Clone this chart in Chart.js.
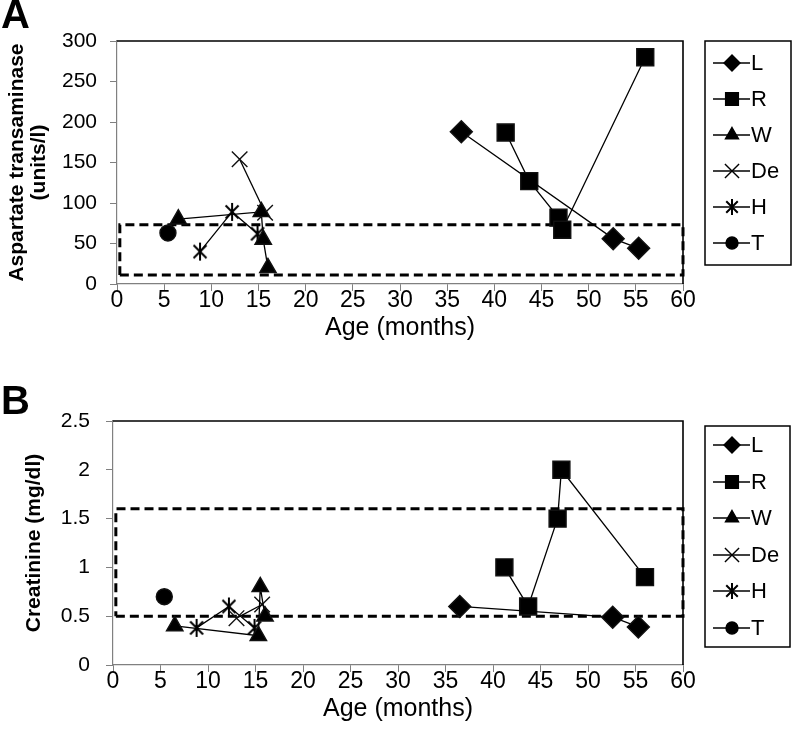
<!DOCTYPE html>
<html>
<head>
<meta charset="utf-8">
<script src="https://cdn.jsdelivr.net/npm/chart.js@4.4.0/dist/chart.umd.min.js"></script>
<style>
body { margin: 0; background: #fff; width: 793px; height: 747px; position: relative; overflow: hidden; font-family: "Liberation Sans", Arial, sans-serif; }
.wrap { position: absolute; left: 0; width: 793px; }
.panel { position: absolute; left: 1px; font-weight: bold; font-size: 40px; line-height: 1; }
</style>
</head>
<body>
<div class="wrap" style="top:0;height:370px"><canvas id="chartA"></canvas></div>
<div class="wrap" style="top:370px;height:377px"><canvas id="chartB"></canvas></div>
<div class="panel" style="top:-6px">A</div>
<div class="panel" style="top:380px">B</div>
<script>
/*
* Данные
*/
var seriesNames = ['L', 'R', 'W', 'De', 'H', 'T'];

// возраст (месяцы) для каждого животного
var ageL = [36.5, 52.6, 55.3];
var ageR = [41.2, 43.7, 46.8, 47.2, 56.0];
var ageW = [6.5, 15.3, 15.5, 16.0];
var ageDe = [13.0, 15.7];
var ageH = [8.8, 12.2, 14.9];
var ageT = [5.4];

// A: аспартатаминотрансфераза (units/l)
var astL = [188, 56, 44];
var astR = [187, 127, 82, 67, 280];
var astW = [80, 89, 55, 20];
var astDe = [154, 88];
var astH = [40, 89, 62];
var astT = [63];
var astRange = [11, 73];

// B: креатинин (mg/dl)
var creL = [0.6, 0.49, 0.39];
var creR = [1.0, 0.6, 1.5, 2.0, 0.9];
var creW = [0.4, 0.3, 0.8, 0.5];
var creDe = [0.48, 0.62];
var creH = [0.38, 0.6, 0.38];
var creT = [0.7];
var creRange = [0.5, 1.6];

// границы нормы по оси X
var rangeAge = [0.3, 60];

var xTicks = { min: 0, max: 60, step: 5 };
var astTicks = { min: 0, max: 300, step: 50 };
var creTicks = { min: 0, max: 2.5, step: 0.5 };

Chart.defaults.font.family = '"Liberation Sans", Arial, sans-serif';
Chart.defaults.color = '#000';

// звездочка (X + вертикальная линия)
function makeAsterisk(r, w) {
    var c = document.createElement('canvas');
    c.width = c.height = Math.ceil(r * 2 + 4);
    var g = c.getContext('2d');
    var m = c.width / 2, d = r * 0.72;
    g.strokeStyle = '#000';
    g.lineWidth = w;
    g.beginPath();
    g.moveTo(m - d, m - d); g.lineTo(m + d, m + d);
    g.moveTo(m + d, m - d); g.lineTo(m - d, m + d);
    g.moveTo(m, m - r); g.lineTo(m, m + r);
    g.stroke();
    return c;
}
var asteriskBig = makeAsterisk(9, 2);
var asteriskSmall = makeAsterisk(8, 2);

function pts(xs, ys) {
    var arr = [];
    for (var i = 0; i < xs.length; i++) {
        arr.push({ x: xs[i], y: ys[i] });
    }
    return arr;
}

function makeDatasets(vals, range) {
    var ages = [ageL, ageR, ageW, ageDe, ageH, ageT];
    var styles = [
        { pointStyle: 'rectRot', pointRadius: 11, legendRadius: 8 },
        { pointStyle: 'rect', pointRadius: 12, legendRadius: 9 },
        { pointStyle: 'triangle', pointRadius: 9.5, legendRadius: 7.5 },
        { pointStyle: 'crossRot', pointRadius: 11, legendRadius: 10 },
        { pointStyle: asteriskBig, pointRadius: 9, legendStyle: asteriskSmall },
        { pointStyle: 'circle', pointRadius: 8, legendRadius: 6 }
    ];
    var datasets = [];
    for (var i = 0; i < seriesNames.length; i++) {
        var s = styles[i];
        datasets.push({
            label: seriesNames[i],
            data: pts(ages[i], vals[i]),
            showLine: true,
            borderColor: '#000',
            borderWidth: 1.3,
            backgroundColor: '#000',
            pointBackgroundColor: '#000',
            pointBorderColor: '#111',
            pointBorderWidth: 1.4,
            pointStyle: s.pointStyle,
            pointRadius: s.pointRadius,
            pointHoverRadius: s.pointRadius,
            legendRadius: s.legendRadius,
            legendStyle: s.legendStyle
        });
    }
    // пунктирная рамка нормы
    datasets.push({
        data: [
            { x: rangeAge[0], y: range[0] },
            { x: rangeAge[1], y: range[0] },
            { x: rangeAge[1], y: range[1] },
            { x: rangeAge[0], y: range[1] },
            { x: rangeAge[0], y: range[0] }
        ],
        showLine: true,
        borderColor: '#000',
        borderWidth: 3,
        borderDash: [9, 5],
        pointRadius: 0,
        pointHoverRadius: 0,
        clip: false
    });
    return datasets;
}

// черная рамка сверху и справа
var frame = {
    id: 'frame',
    beforeDatasetsDraw: function(chart) {
        var a = chart.chartArea, ctx = chart.ctx;
        ctx.save();
        ctx.strokeStyle = '#000';
        ctx.lineWidth = 1.6;
        ctx.beginPath();
        ctx.moveTo(a.left, a.top);
        ctx.lineTo(a.right, a.top);
        ctx.lineTo(a.right, a.bottom);
        ctx.stroke();
        ctx.restore();
    }
};

// легенда в рамке справа
var boxLegend = {
    id: 'boxLegend',
    afterDraw: function(chart) {
        var o = chart.options.plugins.boxLegend;
        var ctx = chart.ctx;
        ctx.save();
        ctx.strokeStyle = '#000';
        ctx.lineWidth = 1.5;
        ctx.strokeRect(o.left, o.top, o.width, o.height);
        ctx.font = '22px "Liberation Sans", Arial, sans-serif';
        ctx.textBaseline = 'middle';
        ctx.textAlign = 'left';
        var sets = chart.data.datasets.filter(function(d) { return d.label; });
        for (var i = 0; i < sets.length; i++) {
            var ds = sets[i];
            var y = Math.round(o.top + o.first + i * o.step);
            ctx.strokeStyle = '#000';
            ctx.lineWidth = 1.3;
            ctx.beginPath();
            ctx.moveTo(o.left + 8, y);
            ctx.lineTo(o.left + 45, y);
            ctx.stroke();
            ctx.fillStyle = '#000';
            ctx.lineWidth = 1.4;
            Chart.helpers.drawPoint(ctx, {
                pointStyle: ds.legendStyle || ds.pointStyle,
                radius: ds.legendRadius || 7,
                borderWidth: 1.4,
                rotation: 0
            }, o.left + 27, y);
            ctx.fillStyle = '#000';
            ctx.fillText(ds.label, o.left + 46, y + 1);
        }
        ctx.restore();
    }
};

function buildChart(id, cfg) {
    var ctx = document.getElementById(id).getContext('2d');
    return new Chart(ctx, {
        type: 'scatter',
        data: { datasets: makeDatasets(cfg.values, cfg.range) },
        options: {
            responsive: true,
            maintainAspectRatio: false,
            animation: false,
            events: [],
            layout: { padding: { top: cfg.top, right: 110, left: 0, bottom: 0 } },
            plugins: {
                legend: { display: false },
                tooltip: { enabled: false },
                boxLegend: cfg.legend
            },
            scales: {
                x: {
                    type: 'linear',
                    min: xTicks.min,
                    max: xTicks.max,
                    afterFit: function(scale) { scale.height = cfg.xHeight; },
                    ticks: { stepSize: xTicks.step, padding: -4, font: { size: 23 }, color: '#000' },
                    grid: { drawOnChartArea: false, drawTicks: true, tickLength: 7, color: '#808080' },
                    border: { color: '#808080', width: 1.2 },
                    title: { display: true, text: 'Age (months)', font: { size: 25 }, color: '#000', padding: { top: 0, bottom: cfg.xTitlePad } }
                },
                y: {
                    min: cfg.yTicks.min,
                    max: cfg.yTicks.max,
                    afterFit: function(scale) { scale.width = cfg.yWidth; },
                    ticks: {
                        stepSize: cfg.yTicks.step,
                        padding: cfg.yPad,
                        font: { size: 21 },
                        color: '#000',
                        callback: function(v) { return String(Math.round(v * 10) / 10); }
                    },
                    grid: { drawOnChartArea: false, drawTicks: true, tickLength: 7, color: '#808080' },
                    border: { color: '#808080', width: 1.2 },
                    title: { display: true, text: cfg.yTitle, font: { size: 21, weight: 'bold', lineHeight: 1.05 }, color: '#000', padding: { top: cfg.yTitlePad, bottom: 0 } }
                }
            }
        },
        plugins: [frame, boxLegend]
    });
}

buildChart('chartA', {
    values: [astL, astR, astW, astDe, astH, astT],
    range: astRange,
    yTicks: astTicks,
    yTitle: ['Aspartate transaminase', '(units/l)'],
    yTitlePad: 6,
    yWidth: 117,
    yPad: 13,
    top: 41,
    xHeight: 86,
    xTitlePad: 27,
    legend: { left: 705, top: 41, width: 86, height: 224, first: 22, step: 36 }
});

buildChart('chartB', {
    values: [creL, creR, creW, creDe, creH, creT],
    range: creRange,
    yTicks: creTicks,
    yTitle: 'Creatinine (mg/dl)',
    yTitlePad: 23,
    yWidth: 113,
    yPad: 16,
    top: 51,
    xHeight: 82,
    xTitlePad: 23,
    legend: { left: 705, top: 56, width: 85, height: 221, first: 19, step: 36.5 }
});
</script>
</body>
</html>
